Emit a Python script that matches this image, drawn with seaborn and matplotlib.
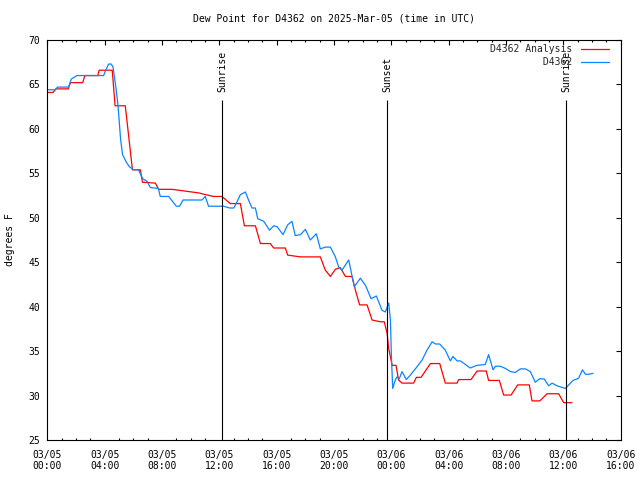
import matplotlib
matplotlib.use('Agg')
import matplotlib.pyplot as plt
import matplotlib.dates as mdates
import seaborn as sns
import pandas as pd

# ---------------- data ----------------
start = pd.Timestamp('2025-03-05 00:00')

analysis_hours = [0.0, 0.4, 0.6, 1.46, 1.61, 2.47, 2.62, 3.52, 3.62, 4.53, 4.73, 5.44, 5.94,
                  6.49, 6.64, 7.54, 7.77, 8.70, 9.63, 10.56, 10.79, 11.58, 12.18, 12.77, 13.47,
                  13.75, 14.52, 14.87, 15.56, 15.79, 16.61, 16.77, 17.66, 19.05, 19.40, 19.75,
                  20.10, 20.44, 20.80, 21.26, 21.49, 21.79, 22.31, 22.66, 23.23, 23.51, 23.71,
                  23.82, 24.06, 24.33, 24.51, 24.75, 25.56, 25.75, 26.08, 26.73, 27.38, 27.77,
                  28.59, 28.70, 29.56, 29.99, 30.63, 30.79, 31.54, 31.84, 32.36, 32.82, 33.63,
                  33.82, 34.36, 34.87, 35.68, 36.03, 36.61]
analysis_values = [64.1, 64.1, 64.5, 64.5, 65.2, 65.2, 66.0, 66.0, 66.6, 66.6, 62.6, 62.6, 55.4,
                   55.4, 54.0, 53.9, 53.2, 53.2, 53.0, 52.8, 52.7, 52.4, 52.4, 51.6, 51.6,
                   49.1, 49.1, 47.1, 47.1, 46.6, 46.6, 45.8, 45.6, 45.6, 44.1, 43.4,
                   44.2, 44.4, 43.4, 43.4, 41.9, 40.2, 40.2, 38.5, 38.3, 38.3, 37.0,
                   35.3, 33.4, 33.4, 31.75, 31.4, 31.4, 32.05, 32.05, 33.6, 33.6, 31.4,
                   31.4, 31.8, 31.8, 32.76, 32.76, 31.7, 31.7, 30.06, 30.06, 31.2, 31.2,
                   29.4, 29.4, 30.2, 30.2, 29.2, 29.2]

obs_hours = [0.0, 0.55, 0.71, 1.49, 1.67, 2.07, 3.93, 4.05, 4.28, 4.45, 4.58, 4.79, 4.93, 5.02,
             5.11, 5.25, 5.50, 5.72, 6.02, 6.37, 6.65, 6.96, 7.19, 7.75, 7.88, 8.47, 9.0, 9.23,
             9.47, 10.79, 11.02, 11.25, 12.30, 12.72, 13.01, 13.24, 13.47, 13.82, 14.04, 14.28,
             14.52, 14.68, 15.10, 15.51, 15.79, 16.03, 16.45, 16.77, 17.07, 17.30, 17.66, 18.01,
             18.35, 18.77, 19.05, 19.40, 19.75, 20.10, 20.32, 20.56, 21.03, 21.42, 21.84, 22.20,
             22.59, 22.96, 23.35, 23.58, 23.82, 23.94, 24.01, 24.10, 24.28, 24.40, 24.56, 24.75,
             25.05, 25.33, 25.80, 26.15, 26.49, 26.85, 27.08, 27.38, 27.77, 28.12, 28.31, 28.59,
             28.82, 29.51, 29.99, 30.56, 30.79, 31.10, 31.27, 31.61, 31.96, 32.31, 32.65, 33.01,
             33.36, 33.70, 34.05, 34.36, 34.68, 34.98, 35.22, 35.56, 36.15, 36.38, 36.68, 37.07,
             37.34, 37.54, 37.78, 38.08]
obs_values = [64.4, 64.4, 64.7, 64.7, 65.6, 66.0, 66.0, 66.5, 67.3, 67.3, 67.0, 64.6, 62.7, 60.8,
              58.9, 57.1, 56.3, 55.75, 55.4, 55.4, 54.4, 54.1, 53.4, 53.3, 52.4, 52.4, 51.3, 51.3,
              52.0, 52.0, 52.4, 51.3, 51.3, 51.1, 51.1, 51.8, 52.6, 52.9, 52.0, 51.1,
              51.1, 49.9, 49.6, 48.6, 49.1, 49.0, 48.1, 49.2, 49.6, 48.0, 48.1, 48.7,
              47.5, 48.2, 46.5, 46.7, 46.7, 45.6, 44.5, 44.1, 45.25, 42.25, 43.2, 42.4,
              40.9, 41.2, 39.6, 39.4, 40.4, 38.5, 34.4, 30.8, 31.75, 32.1, 31.9, 32.7,
              31.8, 32.3, 33.25, 34.0, 35.1, 36.05, 35.8, 35.8, 35.1, 33.9, 34.4, 33.9,
              33.9, 33.1, 33.4, 33.5, 34.6, 32.9, 33.3, 33.3, 33.05, 32.7, 32.6, 33.0,
              33.0, 32.7, 31.5, 31.9, 31.85, 31.1, 31.4, 31.1, 30.8, 31.2, 31.7, 31.95,
              32.9, 32.4, 32.4, 32.5]

series_names = ['D4362 Analysis', 'D4362']
series_colors = ['#ff0000', '#0a84ff']

sun_labels = ['Sunrise', 'Sunset', 'Sunrise']
sun_times = ['2025-03-05 12:12', '2025-03-05 23:43', '2025-03-06 12:11']

title = 'Dew Point for D4362 on 2025-Mar-05 (time in UTC)'
y_label = 'degrees F'
y_ticks = [25, 30, 35, 40, 45, 50, 55, 60, 65, 70]

# ---------------- build table ----------------
df = pd.concat([
    pd.DataFrame({'time': start + pd.to_timedelta(analysis_hours, unit='h'),
                  'value': analysis_values, 'series': series_names[0]}),
    pd.DataFrame({'time': start + pd.to_timedelta(obs_hours, unit='h'),
                  'value': obs_values, 'series': series_names[1]}),
], ignore_index=True)

# ---------------- style ----------------
sns.set_theme(style='white')
plt.rcParams['font.family'] = ['DejaVu Sans Mono', 'DejaVu Sans']
plt.rcParams['font.size'] = 7
plt.rcParams['axes.edgecolor'] = 'black'
plt.rcParams['axes.linewidth'] = 0.8

fig = plt.figure(figsize=(6.4, 4.8), dpi=100)
ax = fig.add_axes([47.3 / 640, 40 / 480, 573.3 / 640, 400 / 480])

sns.lineplot(data=df, x='time', y='value', hue='series', hue_order=series_names,
             palette=dict(zip(series_names, series_colors)), estimator=None, sort=False,
             linewidth=0.9, ax=ax)

ax.set_xlim(start, start + pd.Timedelta(hours=40))
ax.set_ylim(y_ticks[0], y_ticks[-1])
ax.set_yticks(y_ticks)

ax.xaxis.set_major_locator(mdates.HourLocator(byhour=range(0, 24, 4)))
ax.xaxis.set_minor_locator(mdates.HourLocator())
ax.xaxis.set_major_formatter(mdates.DateFormatter('%m/%d\n%H:%M'))

ax.tick_params(axis='both', which='major', direction='in', length=3.3, width=0.8,
               top=True, right=True, labelsize=7, colors='black')
ax.tick_params(axis='x', which='major', pad=7)
ax.tick_params(axis='y', which='major', pad=5)
ax.tick_params(axis='x', which='minor', direction='in', length=1.7, width=0.8,
               top=True, bottom=True, color='black')
for s in ax.spines.values():
    s.set_visible(True)
    s.set_color('black')

ax.set_xlabel('')
ax.set_ylabel(y_label, fontsize=7, color='black')
ax.yaxis.set_label_coords(-0.056, 0.5)
ax.set_title(title, fontsize=7, color='black', pad=13)

# sunrise / sunset markers
for lab, t in zip(sun_labels, sun_times):
    tt = pd.Timestamp(t)
    ax.vlines(tt, y_ticks[0], 63.3, color='black', linewidth=0.8)
    ax.text(tt, 64.1, lab, rotation=90, ha='center', va='bottom', fontsize=7, color='black')

# legend (gnuplot style: right-aligned text, sample on the right)
handles, labels = ax.get_legend_handles_labels()
width = max(len(l) for l in series_names)
ax.legend(handles, [n.rjust(width) for n in series_names], loc='upper right',
          bbox_to_anchor=(0.980, 0.99), frameon=False, markerfirst=False,
          borderpad=0, borderaxespad=0, handlelength=2.85, handletextpad=0.9,
          labelspacing=0.3, fontsize=7)

fig.savefig('out.png', dpi=100)
